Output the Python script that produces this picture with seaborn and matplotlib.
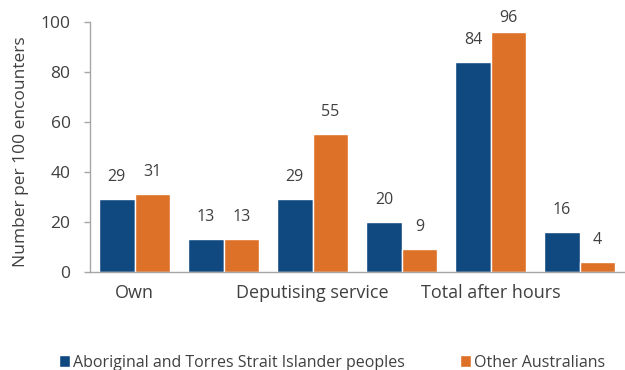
import pandas as pd
import numpy as np
import matplotlib
matplotlib.use("Agg")
import matplotlib.pyplot as plt
import seaborn as sns

# Dados
categories = ["own_a", "own_b", "dep_a", "dep_b", "total_a", "total_b"]
tick_labels = ["Own", "", "Deputising service", "", "Total after hours", ""]
series = ["Aboriginal and Torres Strait Islander peoples", "Other Australians"]
indigenous = [29, 13, 29, 20, 84, 16]
other = [31, 13, 55, 9, 96, 4]

colors = ["#104880", "#DE7128"]
text_color = "#404040"
axis_color = "#A6A6A6"

df = pd.DataFrame({
    "category": categories * 2,
    "group": [series[0]] * len(categories) + [series[1]] * len(categories),
    "value": indigenous + other,
})

sns.set_style("white")
plt.rcParams["font.family"] = ["Open Sans", "DejaVu Sans"]

fig = plt.figure(figsize=(6.25, 3.7), dpi=100)
ax = fig.add_axes([0.144, 0.265, 0.855, 0.676])

sns.barplot(
    data=df, x="category", y="value", hue="group",
    order=categories, hue_order=series, palette=colors,
    width=0.8, saturation=1, ax=ax, legend=True,
)

# Rótulos de valor acima das barras
for container in ax.containers:
    for bar in container:
        h = bar.get_height()
        off = 10 if h > 90 else 16
        ax.annotate(f"{h:.0f}", (bar.get_x() + bar.get_width() / 2, h),
                    xytext=(0, off), textcoords="offset points",
                    ha="center", va="center", fontsize=11.5, color=text_color)

ax.set_ylim(0, 100)
ax.set_xlim(-0.5, len(categories) - 0.5)
ax.set_yticks(range(0, 101, 20))
ax.set_xticks(range(len(categories)))
ax.set_xticklabels(tick_labels)
ax.set_xticks(np.arange(-0.5, len(categories), 1), minor=True)
ax.tick_params(axis="x", which="major", length=0, pad=9, labelsize=13, labelcolor=text_color)
ax.tick_params(axis="x", which="minor", length=5, width=1, color=axis_color, direction="out")
ax.tick_params(axis="y", length=4, width=1, color=axis_color, direction="out", pad=10,
               labelsize=12.5, labelcolor=text_color, left=True)

ax.set_xlabel("")
ax.set_ylabel("Number per 100 encounters", fontsize=12.5, color=text_color)
ax.yaxis.set_label_coords(-0.114, 0.48)

sns.despine(ax=ax)
for side in ["left", "bottom"]:
    ax.spines[side].set_color(axis_color)
    ax.spines[side].set_linewidth(1)

ax.legend_.remove()
handles, labels = ax.get_legend_handles_labels()
fig.legend(handles, labels, loc="center left", bbox_to_anchor=(0.081, 0.02), ncol=2,
           frameon=False, fontsize=11.5, handlelength=0.7, handleheight=0.7,
           handletextpad=0.2, columnspacing=3.45, labelcolor=text_color,
           borderpad=0)

plt.savefig("out.png", dpi=100)
